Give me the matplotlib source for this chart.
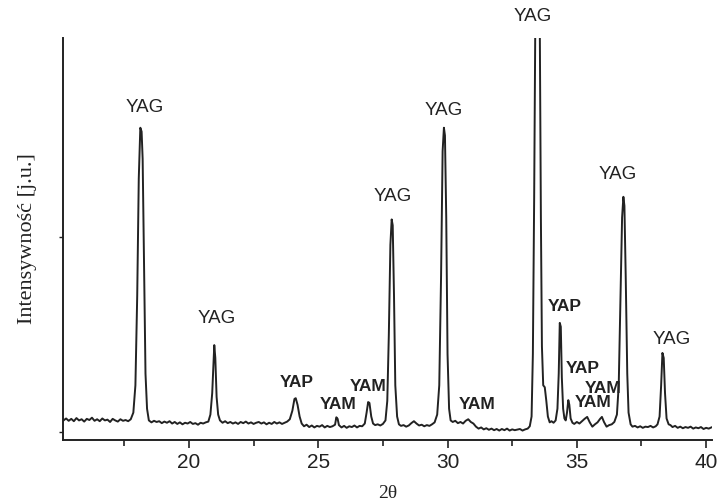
import matplotlib
matplotlib.use("Agg")
import matplotlib.pyplot as plt
from matplotlib.ticker import MultipleLocator, FixedLocator

plt.rcParams["font.family"] = ["Liberation Sans", "DejaVu Sans"]

# XRD trace (2theta, intensity in arbitrary units)
two_theta = [
    15.15, 15.25, 15.35, 15.45, 15.55, 15.65, 15.75, 15.85, 15.95, 16.05,
    16.15, 16.25, 16.35, 16.45, 16.55, 16.65, 16.75, 16.85, 16.95, 17.05,
    17.15, 17.25, 17.35, 17.45, 17.55, 17.65, 17.75, 17.85, 17.93, 18.0,
    18.06, 18.12, 18.17, 18.21, 18.26, 18.32, 18.38, 18.45, 18.55, 18.65,
    18.75, 18.85, 18.95, 19.05, 19.15, 19.25, 19.35, 19.45, 19.55, 19.65,
    19.75, 19.85, 19.95, 20.05, 20.15, 20.25, 20.35, 20.45, 20.55, 20.65,
    20.75, 20.83, 20.9, 20.95, 20.98, 21.02, 21.07, 21.13, 21.2, 21.3,
    21.4, 21.5, 21.6, 21.7, 21.8, 21.9, 22.0, 22.1, 22.2, 22.3,
    22.4, 22.5, 22.6, 22.7, 22.8, 22.9, 23.0, 23.1, 23.2, 23.3,
    23.4, 23.5, 23.6, 23.7, 23.8, 23.9, 24.0, 24.08, 24.13, 24.2,
    24.28, 24.36, 24.45, 24.55, 24.65, 24.75, 24.85, 24.95, 25.05, 25.15,
    25.25, 25.35, 25.45, 25.55, 25.65, 25.7, 25.75, 25.8, 25.9, 26.0,
    26.1, 26.2, 26.3, 26.4, 26.5, 26.6, 26.7, 26.8, 26.87, 26.93,
    26.98, 27.05, 27.12, 27.2, 27.3, 27.4, 27.5, 27.6, 27.67, 27.73,
    27.79, 27.84, 27.88, 27.93, 27.98, 28.05, 28.12, 28.2, 28.3, 28.4,
    28.5, 28.6, 28.7, 28.8, 28.9, 29.0, 29.1, 29.2, 29.3, 29.4,
    29.5, 29.6, 29.68, 29.75, 29.81, 29.86, 29.9, 29.95, 30.0, 30.06,
    30.12, 30.2, 30.3, 30.4, 30.5, 30.6, 30.7, 30.8, 30.9, 31.0,
    31.1, 31.2, 31.3, 31.4, 31.5, 31.6, 31.7, 31.8, 31.9, 32.0,
    32.1, 32.2, 32.3, 32.4, 32.5, 32.6, 32.8, 32.9, 33.0, 33.1,
    33.18, 33.25, 33.3, 33.35, 33.39, 33.45, 33.52, 33.57, 33.61, 33.65,
    33.7, 33.76, 33.82, 33.88, 33.95, 34.02, 34.1, 34.18, 34.25, 34.3,
    34.34, 34.38, 34.42, 34.47, 34.52, 34.57, 34.62, 34.67, 34.71, 34.76,
    34.83, 34.9, 35.0, 35.1, 35.2, 35.3, 35.4, 35.5, 35.6, 35.7,
    35.8, 35.9, 35.97, 36.05, 36.15, 36.25, 36.35, 36.45, 36.55, 36.62,
    36.69, 36.75, 36.8, 36.84, 36.89, 36.95, 37.0, 37.08, 37.15, 37.25,
    37.35, 37.45, 37.55, 37.65, 37.75, 37.85, 37.95, 38.05, 38.12, 38.2,
    38.26, 38.31, 38.36, 38.41, 38.47, 38.55, 38.62, 38.7, 38.8, 38.9,
    39.0, 39.1, 39.2, 39.3, 39.4, 39.5, 39.6, 39.7, 39.8, 39.9,
    40.0, 40.1, 40.2,
]
intensity = [
    3.0, 3.5, 2.9, 3.4, 2.8, 3.6, 3.0, 3.3, 2.7, 3.4,
    3.1, 3.7, 2.9, 3.3, 2.8, 3.5, 3.0, 3.2, 2.6, 3.4,
    3.0, 2.7, 3.3, 2.9, 3.1, 2.8, 3.3, 5.0, 12, 35,
    65, 78, 77, 70, 45, 15, 6, 3.0, 2.5, 2.9,
    2.6, 2.8, 2.3, 2.7, 2.4, 2.8, 2.2, 2.6, 2.1, 2.5,
    2.0, 2.4, 2.2, 2.6, 2.1, 2.3, 1.9, 2.4, 2.2, 2.5,
    2.7, 4.5, 10, 18, 22.3, 19, 9, 4.5, 3.0, 2.4,
    2.8, 2.3, 2.6, 2.2, 2.5, 2.1, 2.6, 2.3, 2.7, 2.2,
    2.5, 2.1, 2.4, 2.6, 2.2, 2.5, 2.0, 2.4, 2.1, 2.6,
    2.2, 2.5, 2.1, 2.4, 2.7, 3.3, 5.5, 8.5, 8.7, 7.0,
    4.0, 2.2, 1.5, 1.9, 1.3, 1.7, 1.2, 1.6, 1.4, 1.8,
    1.2, 1.6, 1.3, 1.5, 1.9, 3.8, 3.4, 1.8, 1.2, 1.6,
    1.1, 1.5, 1.3, 1.7, 1.2, 1.6, 1.5, 2.2, 5.0, 7.7,
    7.5, 4.0, 2.2, 1.8, 2.0, 1.7, 2.1, 3.0, 8, 25,
    48, 54.5, 53, 35, 12, 4.0, 2.0, 1.6, 1.8, 1.4,
    1.7, 2.3, 2.8, 2.2, 1.7, 1.9, 1.5, 1.8, 1.6, 2.0,
    2.5, 4.5, 12, 40, 72, 78, 76, 55, 20, 6,
    3.0, 2.6, 2.9, 2.3, 2.6, 2.2, 2.9, 3.3, 2.6, 2.2,
    1.4, 0.9, 1.2, 0.7, 1.0, 0.6, 0.9, 0.5, 0.8, 0.4,
    0.8, 0.5, 0.9, 0.4, 0.7, 0.5, 0.8, 0.4, 0.7, 0.9,
    1.5, 4, 20, 60, 101, 140, 140, 101, 55, 22,
    12, 11.5, 8, 4, 2.5, 2.8, 2.4, 3.0, 6, 15,
    28, 27, 14, 6, 3.5, 3.0, 5, 8.2, 7, 3.5,
    2.4, 2.1, 2.6, 2.2, 2.8, 3.4, 3.9, 2.5, 1.4, 2.0,
    2.5, 3.4, 3.9, 2.6, 1.4, 1.8, 2.0, 2.6, 4.5, 12,
    35, 55, 60.3, 58, 40, 15, 5, 2.0, 1.4, 1.6,
    1.2, 1.5, 1.1, 1.4, 1.3, 1.6, 1.2, 1.5, 2.0, 4,
    12, 20.3, 19, 10, 3.5, 2.0, 1.8, 1.3, 1.6, 1.1,
    1.4, 1.0, 1.3, 1.1, 1.4, 0.9, 1.2, 1.0, 1.3, 0.8,
    1.1, 0.9, 1.2,
]

# phase labels: text, position, bold or not
label_text = ["YAG", "YAG", "YAP", "YAM", "YAM", "YAG", "YAG", "YAM",
              "YAG", "YAP", "YAP", "YAM", "YAM", "YAG", "YAG"]
label_x = [18.30, 21.08, 24.18, 25.76, 26.92, 27.89, 29.86, 31.14,
           33.30, 34.54, 35.24, 36.01, 35.62, 36.59, 38.68]
label_y = [83.1, 29.2, 12.8, 7.2, 11.8, 60.3, 82.3, 7.2,
           106.4, 32.1, 16.4, 11.3, 7.7, 65.9, 23.8]
label_bold = [False, False, True, True, True, False, False, True,
              False, True, True, True, True, False, False]

ink = "#222222"

fig = plt.figure(figsize=(7.2, 5.03), dpi=100)
ax = fig.add_axes([0.0875, 0.125, 0.9015, 0.7995])

ax.plot(two_theta, intensity, color=ink, lw=1.4)

for t, x, y, b in zip(label_text, label_x, label_y, label_bold):
    ax.text(x, y, t, ha="center", va="center", color=ink,
            fontsize=12.5 if b else 13.5,
            fontweight="bold" if b else "normal", clip_on=False)

ax.set_xlim(15.13, 40.23)
ax.set_ylim(-2.05, 101)
ax.xaxis.set_major_locator(MultipleLocator(5))
ax.xaxis.set_minor_locator(MultipleLocator(2.5))
ax.yaxis.set_major_locator(FixedLocator([0, 50]))
ax.set_yticklabels([])
ax.tick_params(axis="x", which="major", direction="out", length=6, width=1.2,
               labelsize=15, colors=ink)
ax.tick_params(axis="x", which="minor", direction="out", length=4, width=1.2,
               colors=ink)
ax.tick_params(axis="y", direction="out", length=3, width=1, colors=ink)

for side in ["top", "right"]:
    ax.spines[side].set_visible(False)
for side in ["left", "bottom"]:
    ax.spines[side].set_linewidth(1.4)
    ax.spines[side].set_color(ink)

ax.set_xlabel("2θ", family=["Liberation Serif", "DejaVu Serif"], fontsize=14,
              color=ink, labelpad=9)
ax.set_ylabel("Intensywność [j.u.]", family=["Liberation Serif", "DejaVu Serif"],
              fontsize=16, color=ink, labelpad=12)

fig.savefig("out.png", dpi=100)
